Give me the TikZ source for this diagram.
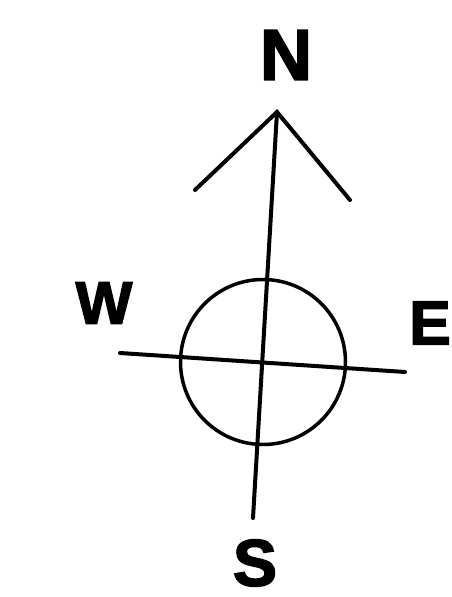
\documentclass[tikz,border=0pt]{standalone}
\usepackage{fontspec}
\setmainfont{Liberation Sans}
\newfontfamily\heavyfont[FakeBold=2.5]{Liberation Sans Bold}
\usepackage{tikz}
\usetikzlibrary{calc}
\tikzset{
  compassline/.style={line width=4pt, line cap=round},
  dirlabel/.style={inner sep=0pt, font=\heavyfont\fontsize{#1}{#1}\selectfont}
}

\begin{document}
\begin{tikzpicture}[x=1pt, y=-1pt]
    \useasboundingbox (0,0) rectangle (452,597);
    % needle and cross
    \coordinate (apex) at (277,112);
    \coordinate (larm) at (195,190);
    \coordinate (rarm) at (350,200);
    \coordinate (south) at (253,518);
    \coordinate (west) at (120,353);
    \coordinate (east) at (405,372);
    \node[draw, circle, line width=3.5pt, minimum size=165pt, inner sep=0pt]
      (ring) at (263,362) {};
    \draw[compassline] (larm) -- (apex) -- (rarm);
    \draw[compassline] (apex) -- (south);
    \draw[compassline] (west) -- (east);

    % direction letters
    \node[dirlabel=72] (N) at (286,55) {N};
    \node[dirlabel=60] (W) at (104,303) {W};
    \node[dirlabel=62] (E) at (430,323) {E};
    \node[dirlabel=66] (S) at (255,563) {S};
  \end{tikzpicture}
\end{document}
